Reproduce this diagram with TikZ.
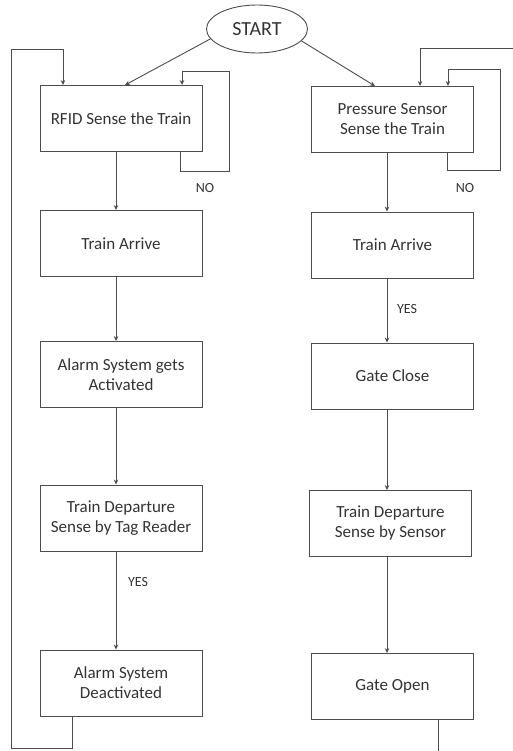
\documentclass[tikz,border=0pt]{standalone}
\usepackage{fontspec}
\setmainfont{Carlito}
\usetikzlibrary{arrows.meta,shapes.geometric}
\tikzset{box/.style={draw=black!70,line width=0.9pt,minimum width=162pt,minimum height=66pt,
  align=center,font=\fontsize{17}{20}\selectfont,text=black!80}}
\tikzset{flow/.style={draw=black!70,line width=0.9pt,-{Stealth[length=5pt,width=4.5pt]}}}
\tikzset{lbl/.style={font=\fontsize{14}{16}\selectfont,text=black!80}}

\begin{document}
\begin{tikzpicture}[x=1pt,y=-1pt]
\useasboundingbox (0,0) rectangle (513,751);

\node[ellipse,draw=black!70,line width=0.9pt,minimum width=101pt,minimum height=48pt,
  inner sep=0pt,font=\fontsize{20}{24}\selectfont,text=black!80] (start) at (257,29) {START};

% left column
\node[box] (l1) at (121,118.5) {RFID Sense the Train};
\node[box] (l2) at (121,243.5) {Train Arrive};
\node[box] (l3) at (121,374.5) {Alarm System gets\\Activated};
\node[box] (l4) at (121,518) {Train Departure\\Sense by Tag Reader};
\node[box] (l5) at (121,683) {Alarm System\\Deactivated};

% right column
\node[box] (r1) at (392.5,119.5) {Pressure Sensor\\Sense the Train};
\node[box] (r2) at (392.5,245) {Train Arrive};
\node[box] (r3) at (392.5,376) {Gate Close};
\node[box] (r4) at (390.5,523.5) {Train Departure\\Sense by Sensor};
\node[box] (r5) at (392.5,686.5) {Gate Open};

\draw[flow] (start.192) -- ([xshift=4pt]l1.north);
\draw[flow] (start.345) -- ([xshift=-17.5pt]r1.north);

\foreach \a/\b in {l1/l2,l2/l3,l3/l4,l4/l5}{
  \draw[flow] ([xshift=-5pt]\a.south) -- ([xshift=-5pt]\b.north);
}
\foreach \a/\b in {r1/r2,r2/r3,r3/r4,r4/r5}{
  \draw[flow] (\a.south -| 387,0) -- (\b.north -| 387,0);
}

% loops
\draw[flow] ([xshift=59pt]l1.south) -- ++(0,20) -| (229,71) -| ([xshift=61pt]l1.north);
\draw[flow] ([xshift=54.5pt]r1.south) -- ++(0,18) -| (500,69) -| ([xshift=55.5pt]r1.north);
\draw[flow] ([xshift=-49pt]l5.south) -- ++(0,32) -| (11,49) -| ([xshift=-58pt]l1.north);

\coordinate (redge) at (513,48);
\coordinate (bedge) at (438,751);
\draw[flow] (redge) -| ([xshift=27.5pt]r1.north);
\draw[draw=black!70,line width=0.9pt] ([xshift=45.5pt]r5.south) -- (bedge);

\node[lbl] (nol) at (205,188) {NO};
\node[lbl] (nor) at (465,188) {NO};
\node[lbl] (yesl) at (138,582) {YES};
\node[lbl] (yesr) at (407,309) {YES};

\end{tikzpicture}
\end{document}
